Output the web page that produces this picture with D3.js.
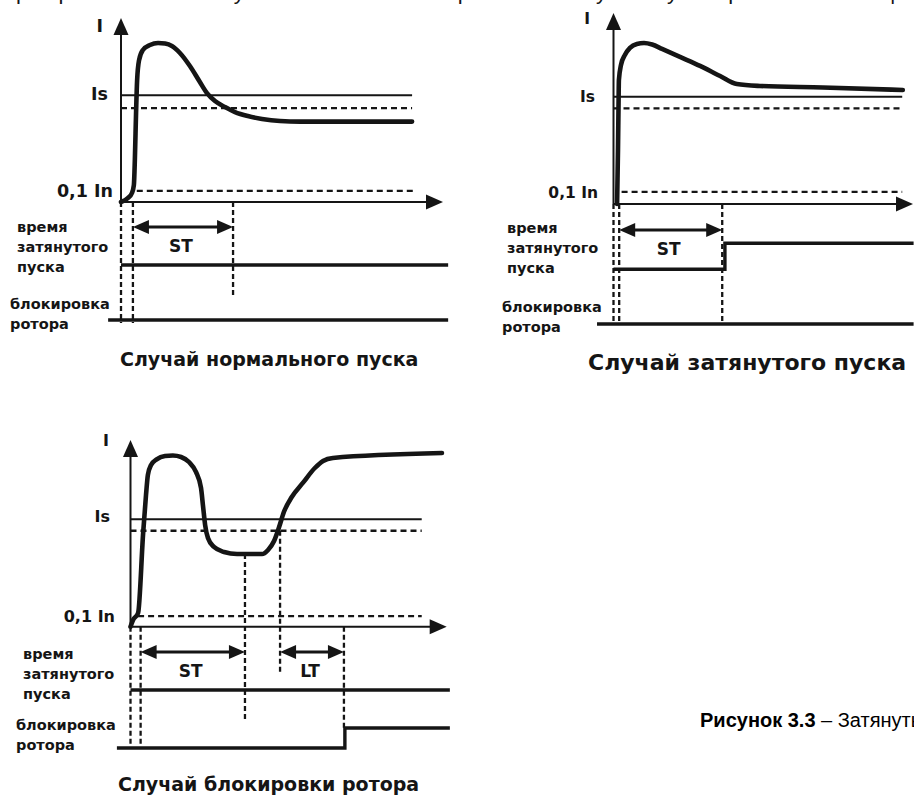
<!DOCTYPE html>
<html>
<head>
<meta charset="utf-8">
<script src="https://cdn.jsdelivr.net/npm/d3@7"></script>
<style>
  body { margin: 0; background: #fff; }
  svg { display: block; }
</style>
</head>
<body>
<script>
const width = 914,
  height = 798,
  ink = "#151515",
  figFont = "'DejaVu Sans', sans-serif",
  textFont = "'Liberation Sans', Arial, sans-serif";

// values are in plot units: time 0..100 along the x axis, current 0..100 along the I axis

// нормальный пуск
const normalCurve = [[0, 0], [2.2, 2.2], [3.4, 4.9], [4.0, 9.2], [4.3, 22.8], [4.7, 50], [5.0, 66],
  [5.6, 77], [6.8, 82.6], [9.0, 85.3], [11.5, 86.4], [13.7, 86.1], [15.8, 84.8], [18.3, 81],
  [21.4, 73.9], [24.5, 65.2], [26.7, 59.2], [29.2, 54.9], [32.3, 51.6], [35.4, 48.9],
  [39.4, 46.7], [43.8, 45.1], [49.4, 44], [55.6, 43.7], [90.4, 43.7]];
const normalLevels = [58, 51, 6]; // Is, Is (возврат), 0,1 In
const normalMarks = [0, 3.7, 34.8];
const normalSpans = [["ST", 3.7, 34.8]];
const normalTimeSig = [[0, 0], [101.6, 0]];
const normalLockSig = [[-4, 0], [101.6, 0]];

// затянутый пуск
const longCurve = [[1.2, 0], [1.5, 28.3], [1.7, 54.5], [1.8, 64.9], [2.5, 72.8], [3.8, 78],
  [5.5, 81.7], [7.8, 83.8], [10.2, 84.3], [12.9, 83.5], [16.2, 81.2], [22.2, 77], [28.9, 72.3],
  [35.6, 67], [41.2, 62.8], [48.9, 61.8], [69.9, 61], [96.6, 59.7]];
const longLevels = [56.2, 50.1, 6.4];
const longMarks = [0, 1.9, 36.3];
const longSpans = [["ST", 1.9, 36.3]];
const longTimeSig = [[0, 0], [37.2, 1], [100.2, 1]];
const longLockSig = [[-5.5, 0], [100.2, 0]];

// блокировка ротора
const lockedCurve = [[0, 0], [0.8, 3.6], [2.4, 7.3], [4.0, 50.2], [4.9, 70.5], [5.5, 81.3],
  [6.5, 86.6], [8.4, 89.8], [10.9, 91.4], [13.4, 91.7], [16, 90.9], [18.5, 88.2], [20.7, 82.9],
  [22.3, 74.3], [22.9, 65.2], [23.6, 54.5], [24.5, 47.5], [26.4, 42.7], [29.6, 40], [33.7, 38.9],
  [41.6, 38.9], [43.5, 41.1], [45.4, 45.9], [47, 53.4], [48.5, 61.4], [51, 69.5], [54.5, 77],
  [58.3, 85], [60.9, 88.8], [64, 90.4], [98.5, 93]];
const lockedLevels = [57.5, 51.4, 5.7];
const lockedMarks = [0, 3.2, 36.2, 47.3, 67.5];
const lockedSpans = [["ST", 3.2, 36.2], ["LT", 47.3, 67.5]];
const lockedTimeSig = [[0, 0], [101, 0]];
const lockedLockSig = [[-4.3, 0], [67.8, 1], [101, 1]];

const titles = ["Случай нормального пуска", "Случай затянутого пуска", "Случай блокировки ротора"];
const timeRowLabel = ["время", "затянутого", "пуска"];
const lockRowLabel = ["блокировка", "ротора"];
const levelLabels = ["Is", "0,1 In"];
const axisLabel = "I";

// page layout (pixels) for each panel
const layout = [
  {
    x: [121, 443], y: [202, 18],
    isEnd: 90.4, inFrom: 4.9, inEnd: 91.3,
    markTop: [0, 0, 0], markBottom: [323, 323, 298],
    spanY: 227, spanLabelY: 252,
    timeRow: [265, 239], lockRow: [320, 300],
    timeLabel: [17, 232], lockLabel: [10, 309],
    iLabel: [103, 32], isLabel: [108, 100], inLabel: [113, 197], levelSize: 17.5,
    title: [120, 366, 19]
  },
  {
    x: [613.5, 913], y: [204, 13],
    isEnd: 96.4, inFrom: 2.7, inEnd: 96.4,
    markTop: [0, 0, 0], markBottom: [323, 323, 323],
    spanY: 230, spanLabelY: 255,
    timeRow: [269.3, 243.3], lockRow: [324, 304],
    timeLabel: [507, 233], lockLabel: [502, 312],
    iLabel: [590, 24], isLabel: [595, 102], inLabel: [598, 198], levelSize: 15.5,
    title: [588, 370, 22]
  },
  {
    x: [130.5, 446.7], y: [626.7, 440],
    isEnd: 92.1, inFrom: 2.4, inEnd: 92.1,
    markTop: [0, 0, 38.9, 51.4, 0], markBottom: [745, 745, 722, 673, 728],
    spanY: 652, spanLabelY: 677,
    timeRow: [690, 664], lockRow: [748, 728],
    timeLabel: [23, 659], lockLabel: [16, 730],
    iLabel: [109, 446], isLabel: [110, 522], inLabel: [115, 622], levelSize: 16,
    title: [118, 791, 19]
  }
];

const panelData = [
  { curve: normalCurve, levels: normalLevels, marks: normalMarks, spans: normalSpans, timeSig: normalTimeSig, lockSig: normalLockSig },
  { curve: longCurve, levels: longLevels, marks: longMarks, spans: longSpans, timeSig: longTimeSig, lockSig: longLockSig },
  { curve: lockedCurve, levels: lockedLevels, marks: lockedMarks, spans: lockedSpans, timeSig: lockedTimeSig, lockSig: lockedLockSig }
];

const svg = d3
  .select("body")
  .append("svg")
  .attr("width", width)
  .attr("height", height)
  .attr("viewBox", [0, 0, width, height]);

svg.append("rect").attr("width", width).attr("height", height).attr("fill", "#fff");

// line of body text above the figure, cut off by the page edge (only descenders show)
svg
  .append("text")
  .attr("x", 4)
  .attr("y", -1)
  .attr("font-family", textFont)
  .attr("font-size", 22)
  .attr("fill", ink)
  .text("при превышении тока уставки Is в течение времени затянутого пуска срабатывает защита ротора");

function tri(g, pts) {
  g.append("path").attr("d", "M" + pts.map((p) => p.join(",")).join("L") + "Z").attr("fill", ink);
}

function drawPanel(L, D, title) {
  const g = svg.append("g");
  const x = d3.scaleLinear().domain([0, 100]).range(L.x);
  const y = d3.scaleLinear().domain([0, 100]).range(L.y);

  // threshold lines
  g.append("line")
    .attr("x1", x(0)).attr("x2", x(L.isEnd))
    .attr("y1", y(D.levels[0])).attr("y2", y(D.levels[0]))
    .attr("stroke", ink).attr("stroke-width", 2);
  g.append("line")
    .attr("x1", x(0)).attr("x2", x(L.isEnd))
    .attr("y1", y(D.levels[1])).attr("y2", y(D.levels[1]))
    .attr("stroke", ink).attr("stroke-width", 2.3).attr("stroke-dasharray", "6,4");
  g.append("line")
    .attr("x1", x(L.inFrom)).attr("x2", x(L.inEnd))
    .attr("y1", y(D.levels[2])).attr("y2", y(D.levels[2]))
    .attr("stroke", ink).attr("stroke-width", 2.3).attr("stroke-dasharray", "6,4");

  // dashed time markers
  g.selectAll("line.mark")
    .data(D.marks)
    .join("line")
    .attr("class", "mark")
    .attr("x1", (d) => x(d)).attr("x2", (d) => x(d))
    .attr("y1", (d, i) => y(L.markTop[i])).attr("y2", (d, i) => L.markBottom[i])
    .attr("stroke", ink).attr("stroke-width", 2.3).attr("stroke-dasharray", "5,3");

  // axes with arrows
  const ah = 17, aw = 7.5;
  g.append("line")
    .attr("x1", x(0)).attr("x2", x(0))
    .attr("y1", y(0)).attr("y2", y(100) + ah - 2)
    .attr("stroke", ink).attr("stroke-width", 2);
  tri(g, [[x(0), y(100)], [x(0) - aw, y(100) + ah], [x(0) + aw, y(100) + ah]]);
  g.append("line")
    .attr("x1", x(0)).attr("x2", x(100) - ah + 2)
    .attr("y1", y(0)).attr("y2", y(0))
    .attr("stroke", ink).attr("stroke-width", 2);
  tri(g, [[x(100), y(0)], [x(100) - ah, y(0) - aw], [x(100) - ah, y(0) + aw]]);

  // current curve
  const line = d3.line().x((d) => x(d[0])).y((d) => y(d[1])).curve(d3.curveMonotoneX);
  g.append("path")
    .attr("d", line(D.curve))
    .attr("fill", "none").attr("stroke", ink)
    .attr("stroke-width", 4.6).attr("stroke-linejoin", "round").attr("stroke-linecap", "round");

  // ST / LT interval arrows
  const sh = 16, sw = 7;
  D.spans.forEach(([name, a, b]) => {
    const xa = x(a), xb = x(b), yy = L.spanY;
    g.append("line")
      .attr("x1", xa + sh - 2).attr("x2", xb - sh + 2)
      .attr("y1", yy).attr("y2", yy)
      .attr("stroke", ink).attr("stroke-width", 3);
    tri(g, [[xa, yy], [xa + sh, yy - sw], [xa + sh, yy + sw]]);
    tri(g, [[xb, yy], [xb - sh, yy - sw], [xb - sh, yy + sw]]);
    g.append("text")
      .attr("x", (xa + xb) / 2 - 2).attr("y", L.spanLabelY)
      .attr("text-anchor", "middle")
      .attr("font-family", figFont).attr("font-weight", "bold").attr("font-size", 17)
      .attr("fill", ink).text(name);
  });

  // signal rows
  const timeY = d3.scaleLinear().domain([0, 1]).range(L.timeRow);
  const lockY = d3.scaleLinear().domain([0, 1]).range(L.lockRow);
  const step = (sy) => d3.line().x((d) => x(d[0])).y((d) => sy(d[1])).curve(d3.curveStepAfter);
  [[D.timeSig, timeY], [D.lockSig, lockY]].forEach(([sig, sy]) => {
    g.append("path")
      .attr("d", step(sy)(sig))
      .attr("fill", "none").attr("stroke", ink).attr("stroke-width", 3.4);
  });

  // labels
  const lab = (xx, yy, t, anchor, size) =>
    g.append("text")
      .attr("x", xx).attr("y", yy)
      .attr("text-anchor", anchor)
      .attr("font-family", figFont).attr("font-weight", "bold").attr("font-size", size)
      .attr("fill", ink).text(t);
  lab(L.iLabel[0], L.iLabel[1], axisLabel, "end", L.levelSize);
  lab(L.isLabel[0], L.isLabel[1], levelLabels[0], "end", L.levelSize);
  lab(L.inLabel[0], L.inLabel[1], levelLabels[1], "end", L.levelSize);
  timeRowLabel.forEach((t, i) => lab(L.timeLabel[0], L.timeLabel[1] + i * 20, t, "start", 14.5));
  lockRowLabel.forEach((t, i) => lab(L.lockLabel[0], L.lockLabel[1] + i * 20, t, "start", 14.5));
  lab(L.title[0], L.title[1], title, "start", L.title[2]);
}

layout.forEach((L, i) => drawPanel(L, panelData[i], titles[i]));

// figure caption (runs past the right edge)
const cap = svg
  .append("text")
  .attr("x", 700)
  .attr("y", 727)
  .attr("font-family", textFont)
  .attr("font-size", 20)
  .attr("fill", "#000");
cap.append("tspan").attr("font-weight", "bold").text("Рисунок 3.3");
cap.append("tspan").text(" – Затянутый пуск и блокировка ротора");
</script>
</body>
</html>
